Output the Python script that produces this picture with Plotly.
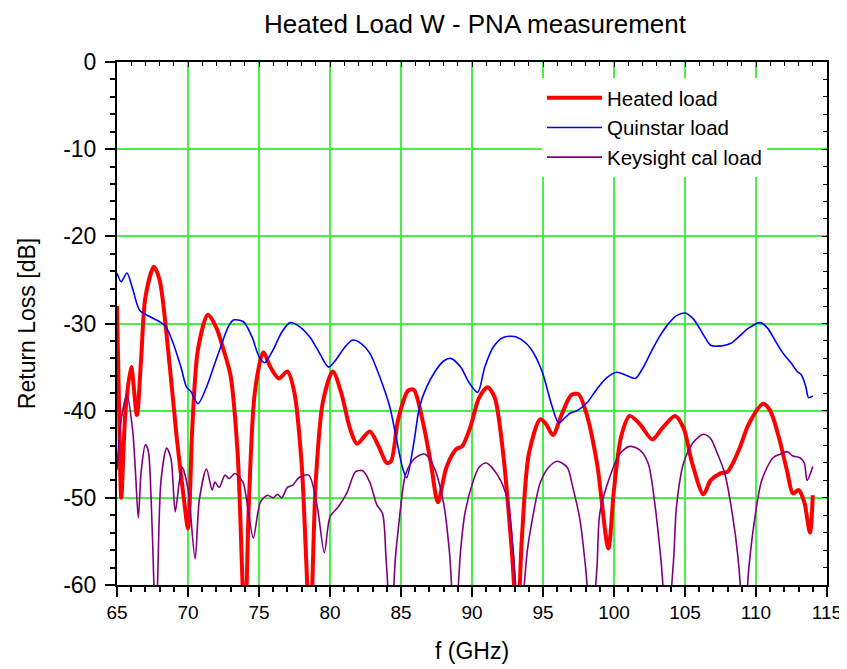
import plotly.graph_objects as go

# ---------------- data ----------------
heated_f = [65.0, 65.15, 65.3, 65.6, 66.0, 66.4, 66.7, 67.0, 67.6, 68.0, 68.6, 69.2, 69.7, 70.0,
            70.3, 70.7, 71.4, 72.0, 72.5, 73.0, 73.5, 74.0, 74.3, 74.7, 75.3, 75.8, 76.4, 77.0,
            77.5, 78.0, 78.6, 79.0, 79.5, 80.2, 80.8, 81.4, 81.9, 82.8, 83.4, 84.0, 84.3, 84.8,
            85.5, 85.9, 86.5, 87.1, 87.6, 88.2, 88.9, 89.3, 89.9, 90.5, 91.1, 91.6, 92.2, 92.8,
            93.2, 93.5, 94.0, 94.8, 95.2, 95.7, 96.3, 97.0, 97.5, 98.0, 98.8, 99.6, 100.0, 100.5,
            101.1, 101.8, 102.7, 103.4, 104.3, 104.9, 105.5, 106.3, 106.8, 107.5, 108.0, 108.8,
            109.5, 110.5, 111.0, 111.6, 112.2, 112.6, 113.0, 113.4, 113.8, 114.0]
heated_db = [-28, -40, -50, -40, -35, -40.5, -34, -27, -23.5, -25, -33, -43, -50, -53.5,
             -42, -33, -29, -30.5, -33, -36, -45, -65, -50, -38, -33.3, -35, -36.3, -35.5,
             -38, -46, -65, -48, -39, -35.5, -38, -42, -43.8, -42.4, -44, -46, -45.8, -41,
             -37.7, -37.6, -41, -46, -50.5, -46.5, -44.4, -44.1, -41.8, -38.5, -37.3, -38.5, -45, -56,
             -65, -55, -45, -41, -41.5, -42.8, -40.5, -38.2, -38.1, -40, -46, -55.8, -49, -43,
             -40.6, -41.5, -43.3, -42, -40.6, -42, -46, -49.6, -48, -47.2, -47, -44.5,
             -41.5, -39.2, -40, -43, -47, -49.5, -49.1, -50.5, -54, -49.7]

quin_f = [65.0, 65.3, 65.7, 66.1, 66.6, 67.3, 68.0, 68.4, 68.9, 69.5, 69.9, 70.2, 70.7, 71.3,
          71.8, 72.3, 72.8, 73.2, 73.9, 74.5, 75.0, 75.4, 76.0, 76.6, 77.2, 77.8, 78.6, 79.3,
          79.9, 80.4, 81.0, 81.6, 82.2, 82.8, 83.5, 84.2, 84.7, 85.1, 85.4, 85.9, 86.3, 86.8,
          87.4, 88.0, 88.5, 89.2, 89.8, 90.4, 90.9, 91.5, 92.2, 93.0, 93.6, 94.1, 94.6, 95.0,
          95.6, 96.1, 96.5, 96.9, 97.4, 98.1, 98.8, 99.5, 100.2, 100.8, 101.5, 102.0, 102.6,
          103.2, 103.8, 104.4, 105.0, 105.6, 106.3, 106.8, 107.3, 108.2, 108.8, 109.5, 110.3,
          110.8, 111.4, 111.9, 112.5, 112.9, 113.2, 113.5, 113.7, 114.0]
quin_db = [-24.2, -25.2, -24.2, -26, -28.5, -29.2, -29.8, -30.3, -32, -35, -37.3, -37.8, -39.2, -37.3,
           -35, -32.7, -30.5, -29.6, -29.8, -31.5, -33.8, -34.5, -33, -31, -29.9, -30.3, -31.6, -33.5,
           -35, -34.2, -32.8, -31.9, -32.3, -33.4, -36.1, -39.5, -43.4, -46.5, -47.7, -43.7, -39.6, -37.3,
           -35.5, -34.3, -34, -35, -36.8, -37.9, -35, -32.7, -31.6, -31.5, -32, -32.8, -34.2, -35.8,
           -39.3, -41.4, -40.9, -40.3, -40.0, -39.1, -37.5, -36.2, -35.6, -35.9, -36.3, -35.2, -33.3,
           -31.5, -30.1, -29.1, -28.8, -29.5, -31.3, -32.5, -32.6, -32.3, -31.5, -30.5, -29.9,
           -30.5, -32.1, -33.4, -34.6, -35.5, -35.9, -37.2, -38.5, -38.3]

key_f = [65.0, 65.3, 65.7, 66.1, 66.3, 66.5, 66.7, 67.0, 67.2, 67.4, 67.6, 67.7, 67.85, 68.1,
         68.5, 68.8, 69.1, 69.4, 69.6, 70.0, 70.5, 70.8, 71.3, 71.7, 71.9, 72.2, 72.6, 72.9,
         73.3, 73.7, 73.9, 74.2, 74.6, 75.1, 75.6, 76.0, 76.3, 76.6, 77.0, 77.4, 77.8, 78.5,
         79.1, 79.6, 80.0, 80.6, 81.2, 81.8, 82.3, 82.8, 83.3, 83.7, 83.95, 84.3, 84.6, 84.8,
         85.3, 85.7, 86.1, 86.7, 87.3, 88.0, 88.4, 88.8, 89.2, 89.5, 90.1, 90.5, 91.0, 91.8,
         92.5, 92.9, 93.35, 93.9, 94.2, 94.8, 95.4, 96.0, 96.7, 97.1, 97.6, 98.0, 98.4, 98.8,
         99.0, 99.7, 100.4, 101.1, 101.8, 102.4, 102.9, 103.3, 103.75, 104.2, 104.4, 104.9,
         105.6, 106.3, 106.8, 107.3, 107.8, 108.5, 108.8, 109.15, 109.5, 109.8, 110.4, 111.2,
         111.7, 112.2, 112.6, 113.1, 113.4, 113.6, 114.0]
key_db = [-46.8, -41, -38.2, -42.2, -47, -52.3, -47, -43.9, -44.6, -50, -60, -65, -60, -48,
          -44.3, -45.5, -51.6, -48, -46.5, -49, -57, -50.2, -46.7, -49.1, -48.2, -48.8, -47.4, -47.8,
          -47.2, -47.8, -48.3, -51, -54.6, -50.5, -49.7, -50, -49.6, -50, -48.8, -48.5, -47.7, -47.4,
          -51, -56.3, -52.2, -51, -49.4, -47.0, -46.9, -48.2, -50.8, -51.8, -57, -65, -57, -53.7,
          -47.4, -46, -45.3, -45, -46.4, -50.6, -56, -65, -56, -51.8, -48, -46.5, -46, -47.4,
          -50.2, -56, -65, -56, -52.9, -48.3, -46.5, -45.8, -46.5, -48.8, -52.5, -58, -65, -58,
          -51.8, -47.6, -45, -44.1, -44.5, -46, -51, -57, -65, -57, -51, -46,
          -43.6, -42.7, -43.2, -45, -47.2, -53.7, -58, -65, -58, -53.7, -48, -45.4,
          -45, -44.7, -45.2, -45.4, -46, -48, -46.4]

x_ticks = [65, 70, 75, 80, 85, 90, 95, 100, 105, 110, 115]
y_ticks = [0, -10, -20, -30, -40, -50, -60]

# ---------------- figure ----------------
# the page adds an 8 px body margin, so the figure is 8 px smaller than the window
FONT = "Liberation Sans, Arial, sans-serif"
GRID = "rgb(70,240,70)"
NONE = "rgba(0,0,0,0)"
W, H = 839, 661

fig = go.Figure()
fig.add_trace(go.Scatter(x=heated_f, y=heated_db, name="Heated load", mode="lines",
                         line=dict(color="#ff0000", width=4, shape="spline", smoothing=0.8)))
fig.add_trace(go.Scatter(x=quin_f, y=quin_db, name="Quinstar load", mode="lines",
                         line=dict(color="#0000ff", width=1.6, shape="spline", smoothing=0.8)))
fig.add_trace(go.Scatter(x=key_f, y=key_db, name="Keysight cal load", mode="lines",
                         line=dict(color="#800080", width=1.6, shape="spline", smoothing=0.8)))
# dummy trace for the top/right frame axes
fig.add_trace(go.Scatter(x=[None], y=[None], xaxis="x2", yaxis="y2", showlegend=False,
                         hoverinfo="skip"))

fig.update_layout(
    width=W, height=H,
    margin=dict(l=109, r=20, t=54, b=84, autoexpand=False),
    plot_bgcolor="white", paper_bgcolor="white",
    font=dict(family=FONT, size=22, color="black"),
    title=dict(text="Heated Load W - PNA measurement", x=467 / W, xref="container",
               xanchor="center", y=1 - 16 / H, yref="container", yanchor="middle",
               font=dict(family=FONT, size=26, color="black")),
    showlegend=True,
    legend=dict(x=(542 - 117) / 710, y=1 - 16 / 523, xanchor="left", yanchor="top",
                bgcolor="white", borderwidth=0, itemwidth=55,
                font=dict(family=FONT, size=20.5, color="black"),
                tracegroupgap=0),
    xaxis=dict(range=[65, 115], tickvals=x_ticks, ticktext=[str(v) for v in x_ticks],
               showgrid=True, gridcolor=GRID, gridwidth=2,
               showline=True, linecolor="black", linewidth=2,
               ticks="outside", ticklen=10, tickwidth=1.5, tickcolor="black",
               minor=dict(dtick=1, ticks="outside", ticklen=5, tickwidth=1.5,
                          tickcolor="black", showgrid=False, gridcolor=NONE),
               tickfont=dict(family=FONT, size=19), ticklabelstandoff=-1,
               title=dict(text="f (GHz)", font=dict(family=FONT, size=23), standoff=21),
               automargin=False, zeroline=False),
    yaxis=dict(range=[-60, 0], tickvals=y_ticks, ticktext=[str(v) for v in y_ticks],
               showgrid=True, gridcolor=GRID, gridwidth=2,
               showline=True, linecolor="black", linewidth=2,
               ticks="outside", ticklen=10, tickwidth=1.5, tickcolor="black",
               minor=dict(dtick=2, ticks="outside", ticklen=5, tickwidth=1.5,
                          tickcolor="black", showgrid=False, gridcolor=NONE),
               tickfont=dict(family=FONT, size=23), ticklabelstandoff=4,
               title=dict(text="Return Loss [dB]", font=dict(family=FONT, size=23), standoff=21),
               automargin=False, zeroline=False),
    xaxis2=dict(range=[65, 115], overlaying="x", side="top", showgrid=False, gridcolor=NONE,
                showline=True, linecolor="black", linewidth=2,
                tickvals=x_ticks, ticks="inside", ticklen=5, tickwidth=1, tickcolor="black",
                minor=dict(dtick=1, ticks="inside", ticklen=4, tickwidth=1, tickcolor="black",
                           showgrid=False, gridcolor=NONE),
                showticklabels=False, zeroline=False, automargin=False),
    yaxis2=dict(range=[-60, 0], overlaying="y", side="right", showgrid=False, gridcolor=NONE,
                showline=True, linecolor="black", linewidth=2,
                tickvals=y_ticks, ticks="inside", ticklen=5, tickwidth=1, tickcolor="black",
                minor=dict(dtick=2, ticks="inside", ticklen=4, tickwidth=1, tickcolor="black",
                           showgrid=False, gridcolor=NONE),
                showticklabels=False, zeroline=False, automargin=False),
)

fig.write_html("out.html")
